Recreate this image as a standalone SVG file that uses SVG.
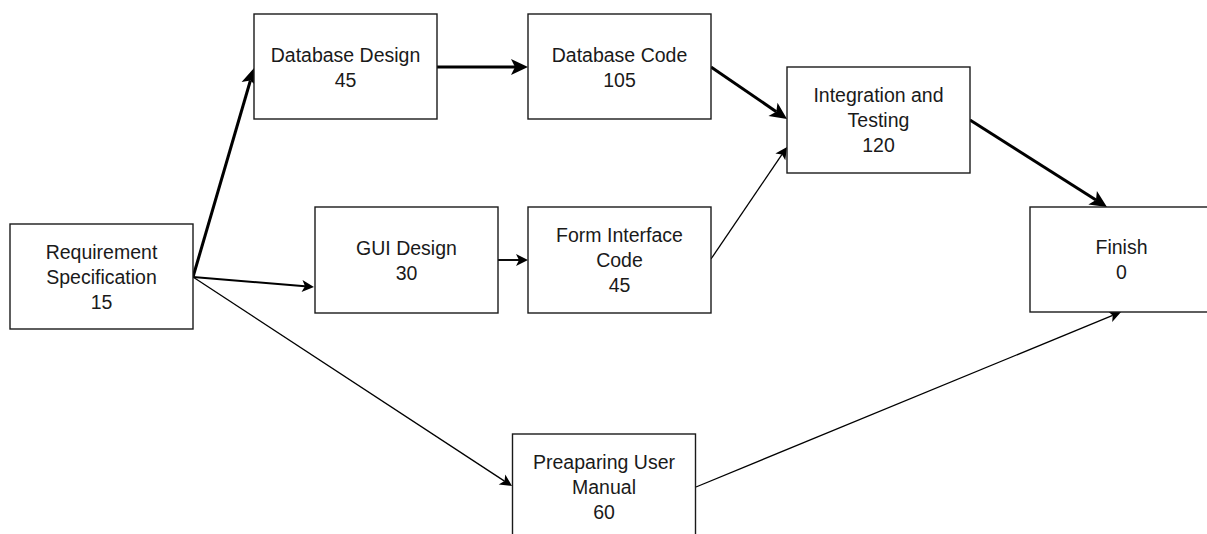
<svg xmlns="http://www.w3.org/2000/svg" width="1207" height="534" viewBox="0 0 1207 534">
<style>
.box{fill:#fff;stroke:#1a1a1a;stroke-width:1.4}
.t{font-family:"Liberation Sans",Arial,sans-serif;font-size:19.5px;fill:#1a1a1a;text-anchor:middle}
.thick{stroke:#000;stroke-width:3;fill:none}
.med{stroke:#000;stroke-width:1.9;fill:none}
.thin{stroke:#000;stroke-width:1.3;fill:none}
</style>
<defs>
<marker id="big" markerUnits="userSpaceOnUse" markerWidth="17" markerHeight="16" refX="4" refY="8" orient="auto" overflow="visible">
<path d="M0,0 L17,8 L0,16 L4,8 Z" fill="#000"/>
</marker>
<marker id="small" markerUnits="userSpaceOnUse" markerWidth="12" markerHeight="12" refX="3" refY="6" orient="auto" overflow="visible">
<path d="M0,0 L12,6 L0,12 L3,6 Z" fill="#000"/>
</marker>
</defs>
<rect width="1207" height="534" fill="#fff"/>
<g id="connectors">
<line class="thick" x1="193" y1="277" x2="250.4" y2="80.5" marker-end="url(#big)"/>
<line class="med" x1="193" y1="277" x2="305" y2="286.3" marker-end="url(#small)"/>
<line class="thin" x1="193" y1="277" x2="504.5" y2="481.1" marker-end="url(#small)"/>
<line class="thick" x1="437" y1="67" x2="515" y2="67" marker-end="url(#big)"/>
<line class="med" x1="498" y1="260" x2="519" y2="260" marker-end="url(#small)"/>
<line class="thick" x1="711" y1="67" x2="776.3" y2="111.7" marker-end="url(#big)"/>
<line class="thin" x1="711" y1="259" x2="782" y2="154.4" marker-end="url(#small)"/>
<line class="thick" x1="970" y1="120" x2="1096" y2="200" marker-end="url(#big)"/>
<line class="thin" x1="696" y1="487" x2="1112.7" y2="315.4" marker-end="url(#small)"/>
</g>
<g id="req-spec">
<rect class="box" x="10" y="224" width="183" height="105"/>
<text class="t" x="101.5" y="258.5">Requirement</text>
<text class="t" x="101.5" y="283.5">Specification</text>
<text class="t" x="101.5" y="308.5">15</text>
</g>
<g id="db-design">
<rect class="box" x="254" y="14" width="183" height="105"/>
<text class="t" x="345.5" y="61.5">Database Design</text>
<text class="t" x="345.5" y="86.5">45</text>
</g>
<g id="db-code">
<rect class="box" x="528" y="14" width="183" height="105"/>
<text class="t" x="619.5" y="61.5">Database Code</text>
<text class="t" x="619.5" y="86.5">105</text>
</g>
<g id="gui-design">
<rect class="box" x="315" y="207" width="183" height="106"/>
<text class="t" x="406.5" y="254.5">GUI Design</text>
<text class="t" x="406.5" y="279.5">30</text>
</g>
<g id="form-code">
<rect class="box" x="528" y="207" width="183" height="106"/>
<text class="t" x="619.5" y="242">Form Interface</text>
<text class="t" x="619.5" y="267">Code</text>
<text class="t" x="619.5" y="292">45</text>
</g>
<g id="integration">
<rect class="box" x="787" y="67" width="183" height="106"/>
<text class="t" x="878.5" y="101.5">Integration and</text>
<text class="t" x="878.5" y="126.5">Testing</text>
<text class="t" x="878.5" y="151.5">120</text>
</g>
<g id="finish">
<rect class="box" x="1030" y="207" width="183" height="105"/>
<text class="t" x="1121.5" y="253.5">Finish</text>
<text class="t" x="1121.5" y="279">0</text>
</g>
<g id="user-manual">
<rect class="box" x="512.5" y="434" width="183" height="105"/>
<text class="t" x="604" y="468.5">Preaparing User</text>
<text class="t" x="604" y="493.5">Manual</text>
<text class="t" x="604" y="518.5">60</text>
</g>
</svg>
